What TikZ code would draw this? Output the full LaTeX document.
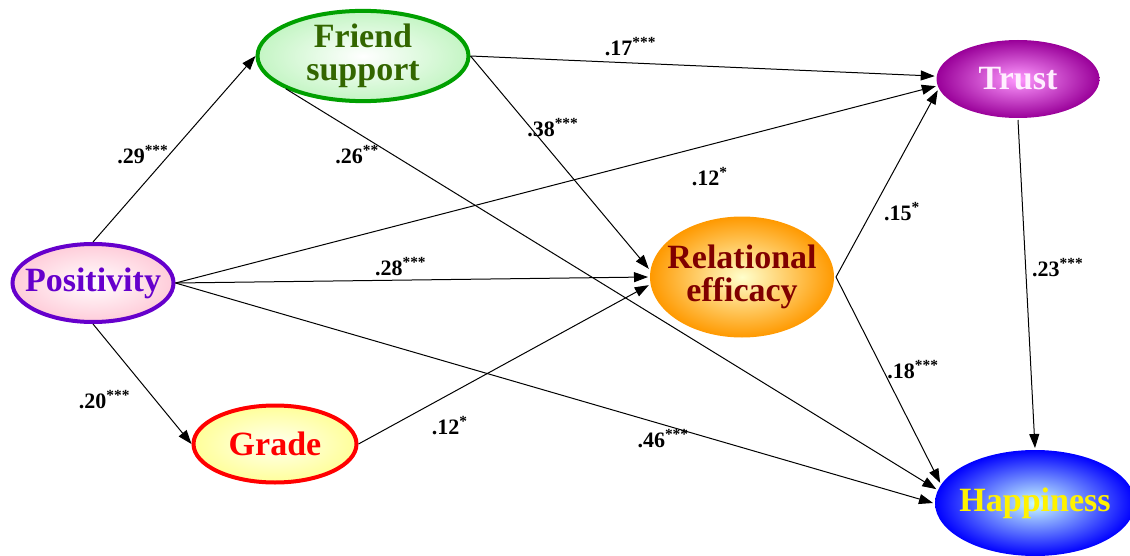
\documentclass[tikz,border=0pt]{standalone}
\usepackage{fontspec}
\setmainfont{Liberation Serif}
\usepackage{tikz}
\usetikzlibrary{arrows.meta,shapes.geometric}
\definecolor{posline}{HTML}{6600CC}
\definecolor{posfill}{HTML}{FFCCD9}
\definecolor{frline}{HTML}{00A000}
\definecolor{frtext}{HTML}{336600}
\definecolor{frfill}{HTML}{C4F5C4}
\definecolor{grfill}{HTML}{FFFF99}
\definecolor{grin}{HTML}{FFFFF0}
\definecolor{effout}{HTML}{FF9900}
\definecolor{effin}{HTML}{FFFFCC}
\definecolor{efftext}{HTML}{800000}
\definecolor{trout}{HTML}{990099}
\definecolor{trin}{HTML}{FF99FF}
\definecolor{trtext}{HTML}{FFEEFF}
\definecolor{hapout}{HTML}{0000FF}
\definecolor{hapin}{HTML}{CCFFFF}
\newcommand{\ctext}[1]{\makebox[0pt]{#1}}

\begin{document}
\begin{tikzpicture}[x=0.5pt,y=-0.5pt,>={Triangle[length=7pt,width=5pt]},
  construct/.style={ellipse,inner sep=0pt,align=center,shading=radial,line width=2pt,
    font=\fontsize{17}{16.5}\selectfont\bfseries},
  link/.style={->,draw=black,line width=0.5pt},
  coef/.style={font=\fontsize{11}{11}\selectfont\bfseries,inner sep=1pt}]
\useasboundingbox (0,0) rectangle (1130,556);
\node[construct,draw=posline,inner color=white,outer color=posfill,text=posline,minimum width=80.5pt,minimum height=39pt] (pos) at (93,283) {\ctext{Positivity}};
\node[construct,draw=frline,inner color=white,outer color=frfill,text=frtext,minimum width=105.5pt,minimum height=43pt] (friend) at (363,56) {\ctext{Friend}\\\ctext{support}};
\node[construct,draw=red,inner color=grin,outer color=grfill,text=red,minimum width=81.5pt,minimum height=38.5pt] (grade) at (275,444) {\ctext{Grade}};
\node[construct,inner color=effin,outer color=effout,text=efftext,minimum width=92pt,minimum height=60.5pt] (effic) at (742,277) {\ctext{Relational}\\\ctext{efficacy}};
\node[construct,inner color=trin,outer color=trout,text=trtext,minimum width=81.5pt,minimum height=39pt] (trust) at (1018,79) {\ctext{Trust}};
\node[construct,inner color=hapin,outer color=hapout,text=yellow,minimum width=100pt,minimum height=53pt] (happy) at (1035,503) {\ctext{Happiness}};
\draw[link] (pos.north) -- node[coef,pos=0.47,left=-1pt] {.29\textsuperscript{***}} (friend.west);
\draw[link] (pos.south) -- node[coef,pos=0.63,left=11pt] {.20\textsuperscript{***}} (grade.west);
\draw[link] (pos.east) -- node[coef,pos=0.703,below=10pt] {.12\textsuperscript{*}} (trust.185);
\draw[link] (pos.east) -- node[coef,pos=0.477,above=1pt] {.28\textsuperscript{***}} (effic.west);
\draw[link] (pos.east) -- node[coef,pos=0.644,below=1pt] {.46\textsuperscript{***}} (happy.west);
\draw[link] (friend.east) -- node[coef,pos=0.345,above=2.5pt] {.17\textsuperscript{***}} (trust.178);
\draw[link] (friend.east) -- node[coef,pos=0.338,right=-3pt] {.38\textsuperscript{***}} (effic.175);
\draw[link] (friend.203) -- node[coef,pos=0.11,below=5pt] {.26\textsuperscript{**}} (happy.172);
\draw[link] (grade.east) -- node[coef,pos=0.315,below=10pt] {.12\textsuperscript{*}} (effic.185);
\draw[link] (effic.east) -- node[coef,pos=0.35,right=5pt] {.15\textsuperscript{*}} (trust.188);
\draw[link] (effic.east) -- node[coef,pos=0.45,right=1pt] {.18\textsuperscript{***}} (happy.168);
\draw[link] (trust.south) -- node[coef,pos=0.45,right=2pt] {.23\textsuperscript{***}} (happy.north);
\end{tikzpicture}
\end{document}
